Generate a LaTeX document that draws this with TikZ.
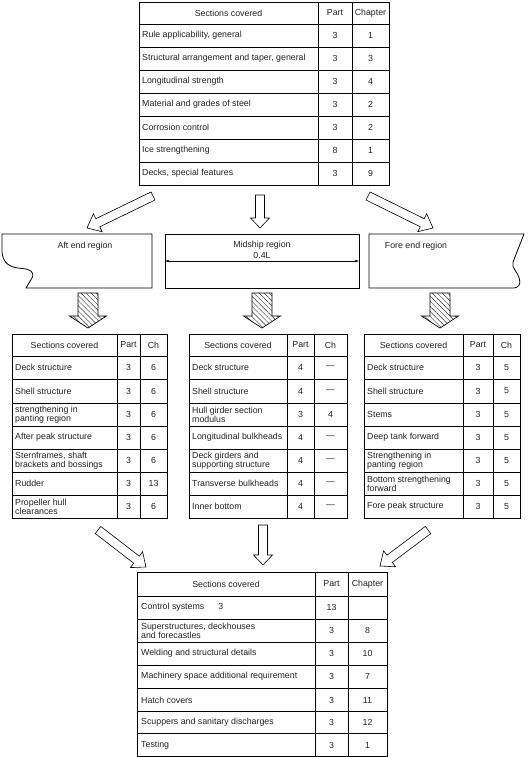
\documentclass[tikz,border=0pt]{standalone}
\usepackage{fontspec}
\setmainfont{Liberation Sans}
\usetikzlibrary{calc,patterns,patterns.meta,arrows.meta}
\definecolor{txt}{HTML}{222222}
\newcommand\tabfont{\fontsize{8.8}{9}\selectfont}
% block arrow: #1 tail coord, #2 tip coord, #3 half shaft, #4 half head, #5 head length, #6 style
\newcommand\blockarrow[6]{%
  \coordinate (#1h) at ($(#2)!#5!(#1)$);
  \draw[#6] ($(#1)!#3!90:(#2)$) -- ($(#1h)!#3!90:(#2)$) -- ($(#1h)!#4!90:(#2)$) -- (#2)
    -- ($(#1h)!#4!-90:(#2)$) -- ($(#1h)!#3!-90:(#2)$) -- ($(#1)!#3!-90:(#2)$) -- cycle;}
% table row: name, x text, x part, x chapter, y, text, part, chapter
\newcommand\trow[8]{%
  \node[lt] (#1s) at (#2,#5) {#6};
  \node[ct] (#1p) at (#3,#5) {#7};
  \node[ct] (#1c) at (#4,#5) {#8};}
\begin{document}
\begin{tikzpicture}[x=1pt,y=-1pt,
  tl/.style={line width=0.8pt, draw=black},
  lt/.style={anchor=west, align=left, inner sep=0pt, font=\tabfont, text=txt},
  ct/.style={anchor=center, align=center, inner sep=0pt, font=\tabfont, text=txt},
  hollow/.style={draw=black, line width=0.6pt, fill=white, line join=miter},
  hatched/.style={draw=black, line width=0.7pt, pattern={Lines[angle=-45, distance=3.6pt, line width=0.45pt]}, pattern color=black!80},
  twoarrow/.style={{Latex[length=4pt,width=2.4pt]}-{Latex[length=4pt,width=2.4pt]}, line width=0.6pt}
]
\useasboundingbox (0,0) rectangle (529,757);

% ---------------- top table ----------------
\draw[tl] (139,2) rectangle (389,185);
\foreach \y in {24,47,70,93,116,139,162} \draw[tl] (139,\y) -- (389,\y);
\draw[tl] (318,2) -- (318,185);
\draw[tl] (352,2) -- (352,185);
\node[ct] (t0s) at (228.5,13) {Sections covered};
\node[ct] (t0p) at (335,13) {Part};
\node[ct] (t0c) at (370.5,13) {Chapter};
\trow{t1}{142}{335}{370.5}{35.5}{Rule applicability, general}{3}{1}
\trow{t2}{142}{335}{370.5}{58.5}{Structural arrangement and taper, general}{3}{3}
\trow{t3}{142}{335}{370.5}{81.5}{Longitudinal strength}{3}{4}
\trow{t4}{142}{335}{370.5}{104.5}{Material and grades of steel}{3}{2}
\trow{t5}{142}{335}{370.5}{127.5}{Corrosion control}{3}{2}
\trow{t6}{142}{335}{370.5}{150.5}{Ice strengthening}{8}{1}
\trow{t7}{142}{335}{370.5}{173.5}{Decks, special features}{3}{9}

% ---------------- arrows from top table ----------------
\coordinate (ta1) at (153,196);  \coordinate (ta1e) at (87,228);
\coordinate (ta2) at (260,195);  \coordinate (ta2e) at (260,228);
\coordinate (ta3) at (368,196);  \coordinate (ta3e) at (433,228);
\blockarrow{ta1}{ta1e}{4.5pt}{10pt}{12pt}{hollow}
\blockarrow{ta2}{ta2e}{4.5pt}{9.5pt}{10pt}{hollow}
\blockarrow{ta3}{ta3e}{4.5pt}{10pt}{12pt}{hollow}

% ---------------- regions ----------------
\draw[tl] (2,234) -- (152,234) -- (152,288) -- (26,288) -- (32,278)
  .. controls (35,272) and (30,269) .. (22,268.5)
  .. controls (9,267.5) and (3,263) .. (2,252) -- cycle;
\node[ct] (aft) at (85,246.5) {Aft end region};

\node[draw=black, line width=0.8pt, minimum width=194pt, minimum height=54pt, inner sep=0pt] (mid) at (262,261) {};
\node[ct] (midt) at (262,245.5) {Midship region};
\node[ct] (midl) at (262,255) {0.4L};
\draw[twoarrow] (mid.west) -- (mid.east);

\draw[tl] (369,234) -- (524,234) -- (513,262)
  .. controls (511,268) and (518,272) .. (519.5,279)
  .. controls (521,285) and (518,287.5) .. (514,288) -- (369,288) -- cycle;
\node[ct] (fore) at (416,246.5) {Fore end region};

% ---------------- hatched arrows ----------------
\coordinate (ha1) at (88,293);  \coordinate (ha1e) at (88,328);
\coordinate (ha2) at (262,293); \coordinate (ha2e) at (262,328);
\coordinate (ha3) at (440,293); \coordinate (ha3e) at (440,328);
\blockarrow{ha1}{ha1e}{10pt}{18.5pt}{12pt}{hatched}
\blockarrow{ha2}{ha2e}{10pt}{18.5pt}{12pt}{hatched}
\blockarrow{ha3}{ha3e}{10pt}{18.5pt}{12pt}{hatched}

% ---------------- left table ----------------
\draw[tl] (12,334) rectangle (167,518);
\foreach \y in {356,379,403,426,449,472,495} \draw[tl] (12,\y) -- (167,\y);
\draw[tl] (117,334) -- (117,518);
\draw[tl] (140,334) -- (140,518);
\node[ct] (l0s) at (64.5,345) {Sections covered};
\node[ct] (l0p) at (128.5,345) {Part};
\node[ct] (l0c) at (153.5,345) {Ch};
\trow{l1}{15}{128.5}{153.5}{367.5}{Deck structure}{3}{6}
\trow{l2}{15}{128.5}{153.5}{391}{Shell structure}{3}{6}
\trow{l3}{15}{128.5}{153.5}{414.5}{strengthening in\\panting region}{3}{6}
\trow{l4}{15}{128.5}{153.5}{437.5}{After peak structure}{3}{6}
\trow{l5}{15}{128.5}{153.5}{460.5}{Sternframes, shaft\\brackets and bossings}{3}{6}
\trow{l6}{15}{128.5}{153.5}{483.5}{Rudder}{3}{13}
\trow{l7}{15}{128.5}{153.5}{506.5}{Propeller hull\\clearances}{3}{6}

% ---------------- middle table ----------------
\draw[tl] (189,334) rectangle (347,518);
\foreach \y in {356,379,403,426,449,472,495} \draw[tl] (189,\y) -- (347,\y);
\draw[tl] (287,334) -- (287,518);
\draw[tl] (314,334) -- (314,518);
\node[ct] (m0s) at (238,345) {Sections covered};
\node[ct] (m0p) at (300.5,345) {Part};
\node[ct] (m0c) at (330.5,345) {Ch};
\trow{m1}{192}{300.5}{330.5}{367.5}{Deck structure}{4}{---}
\trow{m2}{192}{300.5}{330.5}{391}{Shell structure}{4}{---}
\trow{m3}{192}{300.5}{330.5}{414.5}{Hull girder section\\modulus}{3}{4}
\trow{m4}{192}{300.5}{330.5}{437.5}{Longitudinal bulkheads}{4}{---}
\trow{m5}{192}{300.5}{330.5}{460.5}{Deck girders and\\supporting structure}{4}{---}
\trow{m6}{192}{300.5}{330.5}{483.5}{Transverse bulkheads}{4}{---}
\trow{m7}{192}{300.5}{330.5}{506.5}{Inner bottom}{4}{---}

% ---------------- right table ----------------
\draw[tl] (364,334) rectangle (520,518);
\foreach \y in {356,379,403,426,449,472,495} \draw[tl] (364,\y) -- (520,\y);
\draw[tl] (463,334) -- (463,518);
\draw[tl] (493,334) -- (493,518);
\node[ct] (r0s) at (413.5,345) {Sections covered};
\node[ct] (r0p) at (478,345) {Part};
\node[ct] (r0c) at (506.5,345) {Ch};
\trow{r1}{367}{478}{506.5}{367.5}{Deck structure}{3}{5}
\trow{r2}{367}{478}{506.5}{391}{Shell structure}{3}{5}
\trow{r3}{367}{478}{506.5}{414.5}{Stems}{3}{5}
\trow{r4}{367}{478}{506.5}{437.5}{Deep tank forward}{3}{5}
\trow{r5}{367}{478}{506.5}{460.5}{Strengthening in\\panting region}{3}{5}
\trow{r6}{367}{478}{506.5}{483.5}{Bottom strengthening\\forward}{3}{5}
\trow{r7}{367}{478}{506.5}{506.5}{Fore peak structure}{3}{5}

% ---------------- arrows to bottom table ----------------
\coordinate (ba1) at (98,530);   \coordinate (ba1e) at (146,567);
\coordinate (ba2) at (263,525);  \coordinate (ba2e) at (263,565);
\coordinate (ba3) at (428,530);  \coordinate (ba3e) at (380,566);
\blockarrow{ba1}{ba1e}{4.5pt}{10pt}{12pt}{hollow}
\blockarrow{ba2}{ba2e}{4.5pt}{9.5pt}{10pt}{hollow}
\blockarrow{ba3}{ba3e}{4.5pt}{10pt}{12pt}{hollow}

% ---------------- bottom table ----------------
\draw[tl] (137,572) rectangle (387,756);
\foreach \y in {596,619,642,665,688,711.5,733.5} \draw[tl] (137,\y) -- (387,\y);
\draw[tl] (315,572) -- (315,756);
\draw[tl] (348,572) -- (348,756);
\node[ct] (b0s) at (226,584) {Sections covered};
\node[ct] (b0p) at (331.5,584) {Part};
\node[ct] (b0c) at (367.5,584) {Chapter};
\trow{b1}{141}{331.5}{367.5}{607.5}{Control systems\hspace{14pt}3}{13}{}
\trow{b2}{141}{331.5}{367.5}{630.5}{Superstructures, deckhouses\\and forecastles}{3}{8}
\trow{b3}{141}{331.5}{367.5}{653.5}{Welding and structural details}{3}{10}
\trow{b4}{141}{331.5}{367.5}{676.5}{Machinery space additional requirement}{3}{7}
\trow{b5}{141}{331.5}{367.5}{700}{Hatch covers}{3}{11}
\trow{b6}{141}{331.5}{367.5}{722.5}{Scuppers and sanitary discharges}{3}{12}
\trow{b7}{141}{331.5}{367.5}{745}{Testing}{3}{1}
\end{tikzpicture}
\end{document}
